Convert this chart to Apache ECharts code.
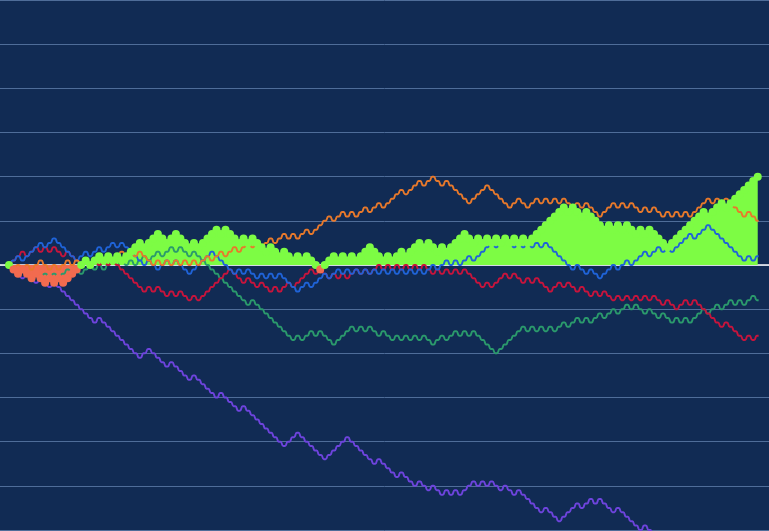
<!DOCTYPE html>
<html>
<head>
<meta charset="utf-8">
<script src="https://cdn.jsdelivr.net/npm/echarts@6/dist/echarts.min.js"></script>
<style>
  html, body { margin: 0; padding: 0; background: #112b54; }
  #chart { width: 769px; height: 531px; }
</style>
</head>
<body>
<div id="chart"></div>
<script>
// walk positions, one value per step
const purpleWalk = [0,-1,-2,-3,-2,-3,-4,-3,-4,-5,
  -4,-5,-6,-7,-8,-9,-10,-11,-12,-13,
  -12,-13,-14,-15,-16,-17,-18,-19,-20,-21,
  -20,-19,-20,-21,-22,-23,-22,-23,-24,-25,
  -26,-25,-26,-27,-28,-29,-30,-29,-30,-31,
  -32,-33,-32,-33,-34,-35,-36,-37,-38,-39,
  -40,-41,-40,-39,-38,-39,-40,-41,-42,-43,
  -44,-43,-42,-41,-40,-39,-40,-41,-42,-43,
  -44,-45,-44,-45,-46,-47,-48,-47,-48,-49,
  -50,-49,-50,-51,-50,-51,-52,-51,-52,-51,
  -52,-51,-50,-49,-50,-49,-50,-49,-50,-51,
  -50,-51,-52,-51,-52,-53,-54,-55,-56,-55,
  -56,-57,-58,-57,-56,-55,-54,-55,-54,-53,
  -54,-53,-54,-55,-56,-55,-56,-57,-58,-59,
  -60,-59,-60,-61,-62,-63,-64,-63,-64,-65,
  -66,-67,-66,-67,-68,-69,-70,-69,-70,-71,
  -72,-71,-72,-73,-74,-75,-76];

const orangeWalk = [0,-1,0,-1,0,-1,0,1,0,-1,
  0,-1,0,1,0,1,0,1,0,1,
  2,1,2,1,2,3,2,3,2,3,
  2,1,0,1,0,1,0,1,0,1,
  0,1,0,1,2,1,2,3,2,3,
  4,3,4,5,4,5,4,5,6,5,
  6,7,6,7,6,7,8,7,8,9,
  10,11,10,11,12,11,12,11,12,13,
  12,13,14,13,14,15,16,17,16,17,
  18,19,18,19,20,19,18,19,18,17,
  16,15,14,15,16,17,18,17,16,15,
  14,13,14,15,14,13,14,15,14,15,
  14,15,14,15,14,13,14,13,14,13,
  12,11,12,13,14,13,14,13,14,13,
  12,13,12,13,12,11,12,11,12,11,
  12,11,12,13,14,15,14,15,14,15,
  14,13,12,11,12,11,10];

const blueWalk = [0,1,2,1,2,3,4,5,4,5,
  6,5,4,3,2,1,2,3,2,3,
  4,3,4,5,4,5,4,3,2,1,
  0,1,0,-1,0,1,0,1,0,-1,
  -2,-1,0,1,2,3,2,1,0,-1,
  -2,-1,-2,-1,-2,-3,-2,-3,-2,-3,
  -2,-3,-4,-5,-6,-5,-4,-5,-4,-3,
  -2,-3,-2,-1,-2,-1,-2,-1,-2,-1,
  -2,-1,-2,-1,-2,-1,-2,-1,-2,-1,
  -2,-1,-2,-1,0,-1,0,1,0,1,
  0,1,2,1,2,3,4,5,4,5,
  6,5,4,5,4,5,4,5,4,5,
  4,3,2,1,0,-1,0,-1,-2,-1,
  -2,-3,-2,-1,0,-1,0,1,0,1,
  2,3,2,3,4,3,4,3,4,5,
  6,7,6,7,8,9,8,7,6,5,
  4,3,2,1,2,1,2];

const redWalk = [0,1,2,3,2,3,4,3,4,3,
  4,3,2,3,2,1,0,1,0,1,
  0,1,0,1,0,-1,-2,-3,-4,-5,
  -6,-5,-6,-5,-6,-7,-6,-7,-6,-7,
  -8,-7,-8,-7,-6,-5,-4,-3,-2,-1,
  -2,-3,-4,-3,-4,-5,-4,-5,-6,-5,
  -6,-5,-4,-5,-4,-3,-2,-1,-2,-1,
  -2,-3,-2,-3,-2,-3,-2,-1,-2,-1,
  -2,-1,0,-1,0,-1,0,-1,0,-1,
  0,-1,0,-1,-2,-1,-2,-1,-2,-1,
  -2,-1,-2,-3,-4,-5,-4,-5,-4,-3,
  -2,-3,-2,-3,-4,-3,-4,-3,-4,-5,
  -6,-5,-4,-5,-4,-5,-6,-5,-6,-7,
  -6,-7,-6,-7,-8,-7,-8,-7,-8,-7,
  -8,-7,-8,-7,-8,-9,-8,-9,-10,-9,
  -8,-9,-8,-9,-10,-11,-12,-13,-14,-13,
  -14,-15,-16,-17,-16,-17,-16];

const tealWalk = [0,-1,-2,-1,-2,-3,-2,-3,-2,-3,
  -2,-3,-2,-1,-2,-1,-2,-1,0,-1,
  0,-1,0,1,0,1,0,1,0,1,
  2,1,2,3,2,3,4,3,4,3,
  2,3,2,1,0,-1,-2,-3,-4,-5,
  -6,-7,-8,-9,-8,-9,-10,-11,-12,-13,
  -14,-15,-16,-17,-16,-17,-16,-15,-16,-15,
  -16,-17,-18,-17,-16,-15,-14,-15,-14,-15,
  -14,-15,-16,-15,-16,-17,-16,-17,-16,-17,
  -16,-17,-16,-17,-18,-17,-16,-17,-16,-15,
  -16,-15,-16,-15,-16,-17,-18,-19,-20,-19,
  -18,-17,-16,-15,-14,-15,-14,-15,-14,-15,
  -14,-15,-14,-13,-14,-13,-12,-13,-12,-13,
  -12,-11,-12,-11,-10,-11,-10,-9,-10,-9,
  -10,-11,-10,-11,-12,-11,-12,-13,-12,-13,
  -12,-13,-12,-11,-10,-11,-10,-9,-10,-9,
  -8,-9,-8,-9,-8,-7,-8];

const areaWalk = [0,-1,-2,-1,-2,-3,-2,-3,-4,-3,
  -4,-3,-4,-3,-2,-1,0,1,0,1,
  2,1,2,1,2,1,2,3,4,5,
  4,5,6,7,6,5,6,7,6,5,
  4,5,4,5,6,7,8,7,8,7,
  6,5,6,5,6,5,4,3,4,3,
  2,3,2,1,2,1,2,1,0,-1,
  0,1,2,1,2,1,2,1,2,3,
  4,3,2,1,2,1,2,3,2,3,
  4,5,4,5,4,3,4,3,4,5,
  6,7,6,5,6,5,6,5,6,5,
  6,5,6,5,6,5,6,7,8,9,
  10,11,12,13,12,13,12,11,12,11,
  10,9,8,9,8,9,8,9,8,7,
  8,7,8,7,6,5,4,5,6,7,
  8,9,10,11,12,11,12,13,14,13,
  14,15,16,17,18,19,20];

// each step gets a short flat top, then the smoothing rounds it off
function stairs(vals) {
  let pts = [];
  vals.forEach((v, k) => {
    pts.push([k + 0.3, v]);
    pts.push([k + 0.7, v]);
  });
  return pts;
}

function walkLine(name, vals, color) {
  return {
    name: name,
    type: "line",
    data: stairs(vals),
    smooth: true,
    showSymbol: false,
    lineStyle: { color: color, width: 2 },
    itemStyle: { color: color }
  };
}

let option = {
  backgroundColor: "#112b54",
  animation: false,
  grid: { left: 0, right: 0, top: 0, bottom: 1 },
  xAxis: {
    type: "value",
    min: -1.5,
    max: 169,
    axisLine: { onZero: true, lineStyle: { color: "#ffffff", width: 1.5 } },
    axisTick: { show: false },
    axisLabel: { show: false },
    splitLine: { show: false }
  },
  yAxis: {
    type: "value",
    min: -60,
    max: 60,
    interval: 10,
    axisLine: { show: false },
    axisTick: { show: false },
    axisLabel: { show: false },
    splitLine: { lineStyle: { color: "#4f6d99", width: 1 } }
  },
  visualMap: {
    show: false,
    type: "piecewise",
    seriesIndex: 0,
    dimension: 1,
    pieces: [
      { gte: -100, lt: 0, color: "#f26b4f" },
      { gte: 0, lte: 100, color: "#7dfc44" }
    ]
  },
  series: [
    {
      name: "area",
      type: "line",
      data: areaWalk.map((v, k) => [k + 0.5, v]),
      smooth: true,
      symbol: "circle",
      symbolSize: 8,
      showSymbol: true,
      lineStyle: { width: 2 },
      areaStyle: { opacity: 1 }
    },
    walkLine("teal", tealWalk, "#2b9a6c"),
    walkLine("red", redWalk, "#c8143c"),
    walkLine("blue", blueWalk, "#1f63d8"),
    walkLine("orange", orangeWalk, "#e8792b"),
    walkLine("purple", purpleWalk, "#6e44dd")
  ]
};

let myChart = echarts.init(document.getElementById("chart"));
myChart.setOption(option);
</script>
</body>
</html>
